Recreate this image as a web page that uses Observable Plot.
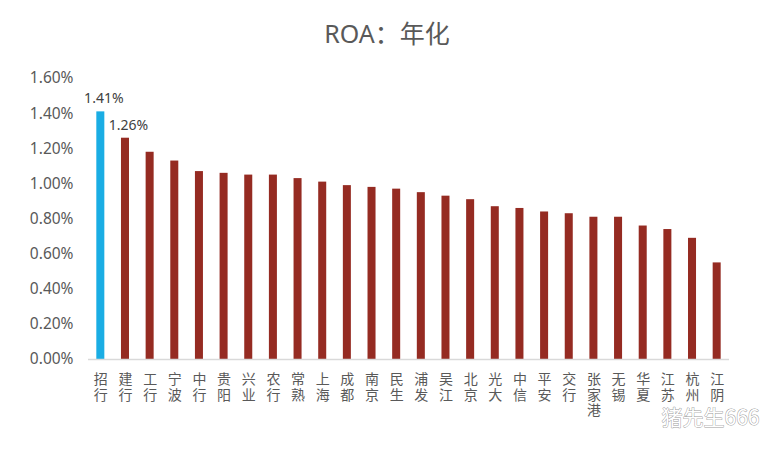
<!DOCTYPE html>
<html>
<head>
<meta charset="utf-8">
<script src="https://cdn.jsdelivr.net/npm/d3@7"></script>
<script src="https://cdn.jsdelivr.net/npm/@observablehq/plot@0.6"></script>
<style>
  html, body { margin: 0; padding: 0; background: #fff; }
  #title { height: 60px; line-height: 66px; text-align: center; font-family: "Noto Sans", "Noto Sans CJK SC", sans-serif; font-size: 25px; color: #595959; }
</style>
</head>
<body>
<div id="title">ROA：年化</div>
<div id="chart"></div>
<script>
const banks = ["招行","建行","工行","宁波","中行","贵阳","兴业","农行","常熟","上海","成都","南京","民生","浦发","吴江","北京","光大","中信","平安","交行","张家港","无锡","华夏","江苏","杭州","江阴"];
const roa = [1.41,1.26,1.18,1.13,1.07,1.06,1.05,1.05,1.03,1.01,0.99,0.98,0.97,0.95,0.93,0.91,0.87,0.86,0.84,0.83,0.81,0.81,0.76,0.74,0.69,0.55];
const highlight = ["招行"];
const labeled = ["招行","建行"];
const yTicks = [0,0.2,0.4,0.6,0.8,1.0,1.2,1.4,1.6];
const watermark = "猪先生666";

const data = banks.map((b, i) => ({bank: b, value: roa[i], hl: highlight.includes(b)}));
const labelData = data.filter(d => labeled.includes(d.bank));

const chart = Plot.plot({
  width: 774,
  height: 390,
  marginLeft: 88,
  marginRight: 45,
  marginTop: 18,
  marginBottom: 91,
  style: {fontFamily: "'Noto Sans', 'Noto Sans CJK SC', sans-serif", color: "#595959", background: "#fff"},
  x: {domain: banks, paddingInner: 0.675, paddingOuter: 0.3375, round: false, label: null},
  y: {domain: [0, 1.6], label: null},
  marks: [
    Plot.axisY({ticks: yTicks, tickSize: 0, tickPadding: 15, tickFormat: d => d.toFixed(2) + "%", fontSize: 15.5, fill: "#595959"}),
    Plot.axisX({tickSize: 0, tickPadding: 14, tickFormat: d => [...d].join("\n"), lineAnchor: "top", lineHeight: 1.1, fontSize: 14, fontFamily: "'Noto Sans CJK SC', sans-serif", fill: "#595959"}),
    Plot.barY(data, {x: "bank", y: "value", fill: d => d.hl ? "#1AADE4" : "#952B22"}),
    Plot.ruleY([0], {stroke: "#d9d9d9", strokeWidth: 1.5}),
    Plot.text(labelData, {x: "bank", y: "value", text: d => d.value.toFixed(2) + "%", dy: -13, dx: 3, fontSize: 14, fill: "#404040"}),
    Plot.text([watermark], {frameAnchor: "bottom-right", text: d => d, dx: 30, dy: 65, fontSize: 21, fill: "#fff", stroke: "#9a9a9a", strokeWidth: 0.9, fontFamily: "'Noto Sans CJK SC', sans-serif"})
  ]
});
document.getElementById("chart").appendChild(chart);
</script>
</body>
</html>
